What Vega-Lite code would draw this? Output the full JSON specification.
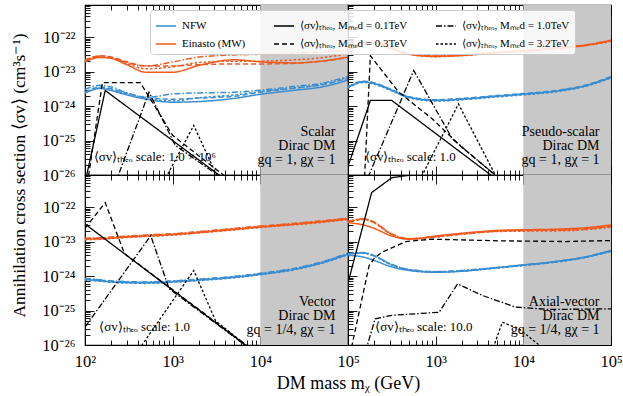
{
"$schema":"https://vega.github.io/schema/vega-lite/v6.json",
"padding":{"left":9,"top":3,"right":5,"bottom":5},
"config":{"font":"Liberation Serif","view":{"stroke":"black","strokeWidth":1.2},
"axis":{"domain":false,"grid":false,"tickColor":"black","tickWidth":0.9,"labelColor":"black","titleColor":"black","labelFontSize":15,"titleFontSize":16,"titleFontWeight":"normal","labelPadding":2,"labelOverlap":false,"labelFlush":false,"labelBound":false},
"legend":{"labelFont":"Liberation Serif"}},
"datasets":{
"band":[{"x0":10000,"x1":100000}],
"lines":[
{"p":"TL","s":"NFW","m":"0.1","x":100,"y":2.40e-24},{"p":"TL","s":"NFW","m":"0.1","x":150,"y":3.24e-24},{"p":"TL","s":"NFW","m":"0.1","x":200,"y":2.82e-24},{"p":"TL","s":"NFW","m":"0.1","x":300,"y":2.09e-24},{"p":"TL","s":"NFW","m":"0.1","x":500,"y":1.58e-24},{"p":"TL","s":"NFW","m":"0.1","x":1000,"y":1.29e-24},{"p":"TL","s":"NFW","m":"0.1","x":2000,"y":1.35e-24},{"p":"TL","s":"NFW","m":"0.1","x":5000,"y":1.66e-24},{"p":"TL","s":"NFW","m":"0.1","x":10000,"y":2.19e-24},{"p":"TL","s":"NFW","m":"0.1","x":25000,"y":2.88e-24},{"p":"TL","s":"NFW","m":"0.1","x":50000,"y":3.55e-24},{"p":"TL","s":"NFW","m":"0.1","x":100000,"y":5.62e-24},
{"p":"TL","s":"NFW","m":"0.3","x":100,"y":2.51e-24},{"p":"TL","s":"NFW","m":"0.3","x":150,"y":3.55e-24},{"p":"TL","s":"NFW","m":"0.3","x":200,"y":3.16e-24},{"p":"TL","s":"NFW","m":"0.3","x":300,"y":2.34e-24},{"p":"TL","s":"NFW","m":"0.3","x":500,"y":1.78e-24},{"p":"TL","s":"NFW","m":"0.3","x":1000,"y":1.58e-24},{"p":"TL","s":"NFW","m":"0.3","x":2000,"y":1.70e-24},{"p":"TL","s":"NFW","m":"0.3","x":5000,"y":1.91e-24},{"p":"TL","s":"NFW","m":"0.3","x":10000,"y":2.51e-24},{"p":"TL","s":"NFW","m":"0.3","x":25000,"y":3.31e-24},{"p":"TL","s":"NFW","m":"0.3","x":50000,"y":4.07e-24},{"p":"TL","s":"NFW","m":"0.3","x":100000,"y":6.31e-24},
{"p":"TL","s":"NFW","m":"1.0","x":100,"y":3.02e-24},{"p":"TL","s":"NFW","m":"1.0","x":150,"y":3.98e-24},{"p":"TL","s":"NFW","m":"1.0","x":200,"y":3.55e-24},{"p":"TL","s":"NFW","m":"1.0","x":300,"y":2.40e-24},{"p":"TL","s":"NFW","m":"1.0","x":500,"y":1.78e-24},{"p":"TL","s":"NFW","m":"1.0","x":1000,"y":2.24e-24},{"p":"TL","s":"NFW","m":"1.0","x":2000,"y":2.40e-24},{"p":"TL","s":"NFW","m":"1.0","x":5000,"y":2.51e-24},{"p":"TL","s":"NFW","m":"1.0","x":10000,"y":2.88e-24},{"p":"TL","s":"NFW","m":"1.0","x":25000,"y":3.72e-24},{"p":"TL","s":"NFW","m":"1.0","x":50000,"y":4.57e-24},{"p":"TL","s":"NFW","m":"1.0","x":100000,"y":7.24e-24},
{"p":"TL","s":"NFW","m":"3.2","x":100,"y":2.40e-24},{"p":"TL","s":"NFW","m":"3.2","x":150,"y":3.31e-24},{"p":"TL","s":"NFW","m":"3.2","x":200,"y":2.95e-24},{"p":"TL","s":"NFW","m":"3.2","x":300,"y":2.19e-24},{"p":"TL","s":"NFW","m":"3.2","x":500,"y":1.66e-24},{"p":"TL","s":"NFW","m":"3.2","x":1000,"y":1.41e-24},{"p":"TL","s":"NFW","m":"3.2","x":2000,"y":1.74e-24},{"p":"TL","s":"NFW","m":"3.2","x":5000,"y":2.09e-24},{"p":"TL","s":"NFW","m":"3.2","x":10000,"y":2.63e-24},{"p":"TL","s":"NFW","m":"3.2","x":25000,"y":3.39e-24},{"p":"TL","s":"NFW","m":"3.2","x":50000,"y":4.27e-24},{"p":"TL","s":"NFW","m":"3.2","x":100000,"y":6.76e-24},
{"p":"TL","s":"Ein","m":"0.1","x":100,"y":1.95e-23},{"p":"TL","s":"Ein","m":"0.1","x":150,"y":2.57e-23},{"p":"TL","s":"Ein","m":"0.1","x":200,"y":2.40e-23},{"p":"TL","s":"Ein","m":"0.1","x":300,"y":1.58e-23},{"p":"TL","s":"Ein","m":"0.1","x":500,"y":9.55e-24},{"p":"TL","s":"Ein","m":"0.1","x":1000,"y":9.55e-24},{"p":"TL","s":"Ein","m":"0.1","x":2000,"y":1.51e-23},{"p":"TL","s":"Ein","m":"0.1","x":5000,"y":2.19e-23},{"p":"TL","s":"Ein","m":"0.1","x":10000,"y":1.91e-23},{"p":"TL","s":"Ein","m":"0.1","x":25000,"y":1.78e-23},{"p":"TL","s":"Ein","m":"0.1","x":50000,"y":2.00e-23},{"p":"TL","s":"Ein","m":"0.1","x":100000,"y":2.63e-23},
{"p":"TL","s":"Ein","m":"0.3","x":100,"y":2.19e-23},{"p":"TL","s":"Ein","m":"0.3","x":150,"y":2.88e-23},{"p":"TL","s":"Ein","m":"0.3","x":200,"y":2.63e-23},{"p":"TL","s":"Ein","m":"0.3","x":300,"y":1.91e-23},{"p":"TL","s":"Ein","m":"0.3","x":500,"y":1.45e-23},{"p":"TL","s":"Ein","m":"0.3","x":1000,"y":1.45e-23},{"p":"TL","s":"Ein","m":"0.3","x":2000,"y":1.58e-23},{"p":"TL","s":"Ein","m":"0.3","x":5000,"y":1.66e-23},{"p":"TL","s":"Ein","m":"0.3","x":10000,"y":1.66e-23},{"p":"TL","s":"Ein","m":"0.3","x":25000,"y":1.74e-23},{"p":"TL","s":"Ein","m":"0.3","x":50000,"y":2.00e-23},{"p":"TL","s":"Ein","m":"0.3","x":100000,"y":2.51e-23},
{"p":"TL","s":"Ein","m":"1.0","x":100,"y":2.09e-23},{"p":"TL","s":"Ein","m":"1.0","x":150,"y":2.82e-23},{"p":"TL","s":"Ein","m":"1.0","x":200,"y":2.51e-23},{"p":"TL","s":"Ein","m":"1.0","x":300,"y":1.82e-23},{"p":"TL","s":"Ein","m":"1.0","x":500,"y":1.45e-23},{"p":"TL","s":"Ein","m":"1.0","x":1000,"y":1.91e-23},{"p":"TL","s":"Ein","m":"1.0","x":2000,"y":2.63e-23},{"p":"TL","s":"Ein","m":"1.0","x":5000,"y":3.02e-23},{"p":"TL","s":"Ein","m":"1.0","x":10000,"y":3.16e-23},{"p":"TL","s":"Ein","m":"1.0","x":25000,"y":3.39e-23},{"p":"TL","s":"Ein","m":"1.0","x":50000,"y":3.63e-23},{"p":"TL","s":"Ein","m":"1.0","x":100000,"y":4.17e-23},
{"p":"TL","s":"Ein","m":"3.2","x":100,"y":1.95e-23},{"p":"TL","s":"Ein","m":"3.2","x":150,"y":2.63e-23},{"p":"TL","s":"Ein","m":"3.2","x":200,"y":2.45e-23},{"p":"TL","s":"Ein","m":"3.2","x":300,"y":1.70e-23},{"p":"TL","s":"Ein","m":"3.2","x":500,"y":1.20e-23},{"p":"TL","s":"Ein","m":"3.2","x":1000,"y":1.38e-23},{"p":"TL","s":"Ein","m":"3.2","x":2000,"y":1.82e-23},{"p":"TL","s":"Ein","m":"3.2","x":5000,"y":2.00e-23},{"p":"TL","s":"Ein","m":"3.2","x":10000,"y":2.00e-23},{"p":"TL","s":"Ein","m":"3.2","x":25000,"y":2.19e-23},{"p":"TL","s":"Ein","m":"3.2","x":50000,"y":2.51e-23},{"p":"TL","s":"Ein","m":"3.2","x":100000,"y":3.31e-23},
{"p":"TR","s":"NFW","m":"0.1","x":100,"y":3.47e-24},{"p":"TR","s":"NFW","m":"0.1","x":150,"y":5.01e-24},{"p":"TR","s":"NFW","m":"0.1","x":200,"y":4.47e-24},{"p":"TR","s":"NFW","m":"0.1","x":300,"y":3.02e-24},{"p":"TR","s":"NFW","m":"0.1","x":500,"y":1.78e-24},{"p":"TR","s":"NFW","m":"0.1","x":1000,"y":1.45e-24},{"p":"TR","s":"NFW","m":"0.1","x":2000,"y":1.58e-24},{"p":"TR","s":"NFW","m":"0.1","x":5000,"y":1.91e-24},{"p":"TR","s":"NFW","m":"0.1","x":10000,"y":2.19e-24},{"p":"TR","s":"NFW","m":"0.1","x":25000,"y":2.75e-24},{"p":"TR","s":"NFW","m":"0.1","x":50000,"y":3.80e-24},{"p":"TR","s":"NFW","m":"0.1","x":100000,"y":6.76e-24},
{"p":"TR","s":"NFW","m":"0.3","x":100,"y":3.64e-24},{"p":"TR","s":"NFW","m":"0.3","x":150,"y":5.26e-24},{"p":"TR","s":"NFW","m":"0.3","x":200,"y":4.69e-24},{"p":"TR","s":"NFW","m":"0.3","x":300,"y":3.17e-24},{"p":"TR","s":"NFW","m":"0.3","x":500,"y":1.87e-24},{"p":"TR","s":"NFW","m":"0.3","x":1000,"y":1.52e-24},{"p":"TR","s":"NFW","m":"0.3","x":2000,"y":1.66e-24},{"p":"TR","s":"NFW","m":"0.3","x":5000,"y":2.01e-24},{"p":"TR","s":"NFW","m":"0.3","x":10000,"y":2.30e-24},{"p":"TR","s":"NFW","m":"0.3","x":25000,"y":2.89e-24},{"p":"TR","s":"NFW","m":"0.3","x":50000,"y":3.99e-24},{"p":"TR","s":"NFW","m":"0.3","x":100000,"y":7.10e-24},
{"p":"TR","s":"NFW","m":"1.0","x":100,"y":3.54e-24},{"p":"TR","s":"NFW","m":"1.0","x":150,"y":5.11e-24},{"p":"TR","s":"NFW","m":"1.0","x":200,"y":4.56e-24},{"p":"TR","s":"NFW","m":"1.0","x":300,"y":3.08e-24},{"p":"TR","s":"NFW","m":"1.0","x":500,"y":1.82e-24},{"p":"TR","s":"NFW","m":"1.0","x":1000,"y":1.48e-24},{"p":"TR","s":"NFW","m":"1.0","x":2000,"y":1.61e-24},{"p":"TR","s":"NFW","m":"1.0","x":5000,"y":1.95e-24},{"p":"TR","s":"NFW","m":"1.0","x":10000,"y":2.23e-24},{"p":"TR","s":"NFW","m":"1.0","x":25000,"y":2.81e-24},{"p":"TR","s":"NFW","m":"1.0","x":50000,"y":3.88e-24},{"p":"TR","s":"NFW","m":"1.0","x":100000,"y":6.90e-24},
{"p":"TR","s":"NFW","m":"3.2","x":100,"y":3.33e-24},{"p":"TR","s":"NFW","m":"3.2","x":150,"y":4.81e-24},{"p":"TR","s":"NFW","m":"3.2","x":200,"y":4.29e-24},{"p":"TR","s":"NFW","m":"3.2","x":300,"y":2.90e-24},{"p":"TR","s":"NFW","m":"3.2","x":500,"y":1.71e-24},{"p":"TR","s":"NFW","m":"3.2","x":1000,"y":1.39e-24},{"p":"TR","s":"NFW","m":"3.2","x":2000,"y":1.52e-24},{"p":"TR","s":"NFW","m":"3.2","x":5000,"y":1.83e-24},{"p":"TR","s":"NFW","m":"3.2","x":10000,"y":2.10e-24},{"p":"TR","s":"NFW","m":"3.2","x":25000,"y":2.64e-24},{"p":"TR","s":"NFW","m":"3.2","x":50000,"y":3.65e-24},{"p":"TR","s":"NFW","m":"3.2","x":100000,"y":6.49e-24},
{"p":"TR","s":"Ein","m":"0.1","x":100,"y":4.17e-23},{"p":"TR","s":"Ein","m":"0.1","x":150,"y":6.92e-23},{"p":"TR","s":"Ein","m":"0.1","x":200,"y":7.41e-23},{"p":"TR","s":"Ein","m":"0.1","x":300,"y":5.01e-23},{"p":"TR","s":"Ein","m":"0.1","x":500,"y":3.16e-23},{"p":"TR","s":"Ein","m":"0.1","x":1000,"y":2.75e-23},{"p":"TR","s":"Ein","m":"0.1","x":2000,"y":2.95e-23},{"p":"TR","s":"Ein","m":"0.1","x":5000,"y":3.55e-23},{"p":"TR","s":"Ein","m":"0.1","x":10000,"y":3.98e-23},{"p":"TR","s":"Ein","m":"0.1","x":25000,"y":4.79e-23},{"p":"TR","s":"Ein","m":"0.1","x":50000,"y":5.75e-23},{"p":"TR","s":"Ein","m":"0.1","x":100000,"y":7.94e-23},
{"p":"TR","s":"Ein","m":"0.3","x":100,"y":3.98e-23},{"p":"TR","s":"Ein","m":"0.3","x":150,"y":6.03e-23},{"p":"TR","s":"Ein","m":"0.3","x":200,"y":6.61e-23},{"p":"TR","s":"Ein","m":"0.3","x":300,"y":4.68e-23},{"p":"TR","s":"Ein","m":"0.3","x":500,"y":3.24e-23},{"p":"TR","s":"Ein","m":"0.3","x":1000,"y":2.82e-23},{"p":"TR","s":"Ein","m":"0.3","x":2000,"y":3.02e-23},{"p":"TR","s":"Ein","m":"0.3","x":5000,"y":3.55e-23},{"p":"TR","s":"Ein","m":"0.3","x":10000,"y":3.89e-23},{"p":"TR","s":"Ein","m":"0.3","x":25000,"y":4.68e-23},{"p":"TR","s":"Ein","m":"0.3","x":50000,"y":5.62e-23},{"p":"TR","s":"Ein","m":"0.3","x":100000,"y":7.76e-23},
{"p":"TR","s":"Ein","m":"1.0","x":100,"y":4.37e-23},{"p":"TR","s":"Ein","m":"1.0","x":150,"y":7.24e-23},{"p":"TR","s":"Ein","m":"1.0","x":200,"y":7.59e-23},{"p":"TR","s":"Ein","m":"1.0","x":300,"y":5.13e-23},{"p":"TR","s":"Ein","m":"1.0","x":500,"y":3.31e-23},{"p":"TR","s":"Ein","m":"1.0","x":1000,"y":2.82e-23},{"p":"TR","s":"Ein","m":"1.0","x":2000,"y":3.02e-23},{"p":"TR","s":"Ein","m":"1.0","x":5000,"y":3.63e-23},{"p":"TR","s":"Ein","m":"1.0","x":10000,"y":4.07e-23},{"p":"TR","s":"Ein","m":"1.0","x":25000,"y":4.90e-23},{"p":"TR","s":"Ein","m":"1.0","x":50000,"y":5.89e-23},{"p":"TR","s":"Ein","m":"1.0","x":100000,"y":8.13e-23},
{"p":"TR","s":"Ein","m":"3.2","x":100,"y":3.98e-23},{"p":"TR","s":"Ein","m":"3.2","x":150,"y":6.31e-23},{"p":"TR","s":"Ein","m":"3.2","x":200,"y":6.92e-23},{"p":"TR","s":"Ein","m":"3.2","x":300,"y":4.90e-23},{"p":"TR","s":"Ein","m":"3.2","x":500,"y":3.16e-23},{"p":"TR","s":"Ein","m":"3.2","x":1000,"y":2.69e-23},{"p":"TR","s":"Ein","m":"3.2","x":2000,"y":2.88e-23},{"p":"TR","s":"Ein","m":"3.2","x":5000,"y":3.47e-23},{"p":"TR","s":"Ein","m":"3.2","x":10000,"y":3.89e-23},{"p":"TR","s":"Ein","m":"3.2","x":25000,"y":4.68e-23},{"p":"TR","s":"Ein","m":"3.2","x":50000,"y":5.62e-23},{"p":"TR","s":"Ein","m":"3.2","x":100000,"y":7.59e-23},
{"p":"BL","s":"NFW","m":"0.1","x":100,"y":7.94e-25},{"p":"BL","s":"NFW","m":"0.1","x":150,"y":7.24e-25},{"p":"BL","s":"NFW","m":"0.1","x":200,"y":6.76e-25},{"p":"BL","s":"NFW","m":"0.1","x":300,"y":6.46e-25},{"p":"BL","s":"NFW","m":"0.1","x":500,"y":6.31e-25},{"p":"BL","s":"NFW","m":"0.1","x":1000,"y":6.76e-25},{"p":"BL","s":"NFW","m":"0.1","x":2000,"y":7.59e-25},{"p":"BL","s":"NFW","m":"0.1","x":5000,"y":9.12e-25},{"p":"BL","s":"NFW","m":"0.1","x":10000,"y":1.12e-24},{"p":"BL","s":"NFW","m":"0.1","x":25000,"y":1.58e-24},{"p":"BL","s":"NFW","m":"0.1","x":50000,"y":2.40e-24},{"p":"BL","s":"NFW","m":"0.1","x":100000,"y":4.27e-24},
{"p":"BL","s":"NFW","m":"0.3","x":100,"y":8.26e-25},{"p":"BL","s":"NFW","m":"0.3","x":150,"y":7.53e-25},{"p":"BL","s":"NFW","m":"0.3","x":200,"y":7.03e-25},{"p":"BL","s":"NFW","m":"0.3","x":300,"y":6.72e-25},{"p":"BL","s":"NFW","m":"0.3","x":500,"y":6.56e-25},{"p":"BL","s":"NFW","m":"0.3","x":1000,"y":7.03e-25},{"p":"BL","s":"NFW","m":"0.3","x":2000,"y":7.89e-25},{"p":"BL","s":"NFW","m":"0.3","x":5000,"y":9.48e-25},{"p":"BL","s":"NFW","m":"0.3","x":10000,"y":1.16e-24},{"p":"BL","s":"NFW","m":"0.3","x":25000,"y":1.64e-24},{"p":"BL","s":"NFW","m":"0.3","x":50000,"y":2.50e-24},{"p":"BL","s":"NFW","m":"0.3","x":100000,"y":4.44e-24},
{"p":"BL","s":"NFW","m":"1.0","x":100,"y":8.50e-25},{"p":"BL","s":"NFW","m":"1.0","x":150,"y":7.75e-25},{"p":"BL","s":"NFW","m":"1.0","x":200,"y":7.23e-25},{"p":"BL","s":"NFW","m":"1.0","x":300,"y":6.91e-25},{"p":"BL","s":"NFW","m":"1.0","x":500,"y":6.75e-25},{"p":"BL","s":"NFW","m":"1.0","x":1000,"y":7.23e-25},{"p":"BL","s":"NFW","m":"1.0","x":2000,"y":8.12e-25},{"p":"BL","s":"NFW","m":"1.0","x":5000,"y":9.76e-25},{"p":"BL","s":"NFW","m":"1.0","x":10000,"y":1.20e-24},{"p":"BL","s":"NFW","m":"1.0","x":25000,"y":1.69e-24},{"p":"BL","s":"NFW","m":"1.0","x":50000,"y":2.57e-24},{"p":"BL","s":"NFW","m":"1.0","x":100000,"y":4.57e-24},
{"p":"BL","s":"NFW","m":"3.2","x":100,"y":7.70e-25},{"p":"BL","s":"NFW","m":"3.2","x":150,"y":7.02e-25},{"p":"BL","s":"NFW","m":"3.2","x":200,"y":6.56e-25},{"p":"BL","s":"NFW","m":"3.2","x":300,"y":6.27e-25},{"p":"BL","s":"NFW","m":"3.2","x":500,"y":6.12e-25},{"p":"BL","s":"NFW","m":"3.2","x":1000,"y":6.56e-25},{"p":"BL","s":"NFW","m":"3.2","x":2000,"y":7.36e-25},{"p":"BL","s":"NFW","m":"3.2","x":5000,"y":8.85e-25},{"p":"BL","s":"NFW","m":"3.2","x":10000,"y":1.09e-24},{"p":"BL","s":"NFW","m":"3.2","x":25000,"y":1.53e-24},{"p":"BL","s":"NFW","m":"3.2","x":50000,"y":2.33e-24},{"p":"BL","s":"NFW","m":"3.2","x":100000,"y":4.14e-24},
{"p":"BL","s":"Ein","m":"0.1","x":100,"y":1.17e-23},{"p":"BL","s":"Ein","m":"0.1","x":150,"y":1.20e-23},{"p":"BL","s":"Ein","m":"0.1","x":200,"y":1.26e-23},{"p":"BL","s":"Ein","m":"0.1","x":300,"y":1.35e-23},{"p":"BL","s":"Ein","m":"0.1","x":500,"y":1.45e-23},{"p":"BL","s":"Ein","m":"0.1","x":1000,"y":1.58e-23},{"p":"BL","s":"Ein","m":"0.1","x":2000,"y":1.82e-23},{"p":"BL","s":"Ein","m":"0.1","x":5000,"y":2.24e-23},{"p":"BL","s":"Ein","m":"0.1","x":10000,"y":2.63e-23},{"p":"BL","s":"Ein","m":"0.1","x":25000,"y":3.16e-23},{"p":"BL","s":"Ein","m":"0.1","x":50000,"y":3.72e-23},{"p":"BL","s":"Ein","m":"0.1","x":100000,"y":4.47e-23},
{"p":"BL","s":"Ein","m":"0.3","x":100,"y":1.22e-23},{"p":"BL","s":"Ein","m":"0.3","x":150,"y":1.25e-23},{"p":"BL","s":"Ein","m":"0.3","x":200,"y":1.31e-23},{"p":"BL","s":"Ein","m":"0.3","x":300,"y":1.40e-23},{"p":"BL","s":"Ein","m":"0.3","x":500,"y":1.51e-23},{"p":"BL","s":"Ein","m":"0.3","x":1000,"y":1.64e-23},{"p":"BL","s":"Ein","m":"0.3","x":2000,"y":1.89e-23},{"p":"BL","s":"Ein","m":"0.3","x":5000,"y":2.33e-23},{"p":"BL","s":"Ein","m":"0.3","x":10000,"y":2.74e-23},{"p":"BL","s":"Ein","m":"0.3","x":25000,"y":3.29e-23},{"p":"BL","s":"Ein","m":"0.3","x":50000,"y":3.87e-23},{"p":"BL","s":"Ein","m":"0.3","x":100000,"y":4.65e-23},
{"p":"BL","s":"Ein","m":"1.0","x":100,"y":1.25e-23},{"p":"BL","s":"Ein","m":"1.0","x":150,"y":1.28e-23},{"p":"BL","s":"Ein","m":"1.0","x":200,"y":1.35e-23},{"p":"BL","s":"Ein","m":"1.0","x":300,"y":1.44e-23},{"p":"BL","s":"Ein","m":"1.0","x":500,"y":1.55e-23},{"p":"BL","s":"Ein","m":"1.0","x":1000,"y":1.69e-23},{"p":"BL","s":"Ein","m":"1.0","x":2000,"y":1.95e-23},{"p":"BL","s":"Ein","m":"1.0","x":5000,"y":2.40e-23},{"p":"BL","s":"Ein","m":"1.0","x":10000,"y":2.81e-23},{"p":"BL","s":"Ein","m":"1.0","x":25000,"y":3.38e-23},{"p":"BL","s":"Ein","m":"1.0","x":50000,"y":3.98e-23},{"p":"BL","s":"Ein","m":"1.0","x":100000,"y":4.78e-23},
{"p":"BL","s":"Ein","m":"3.2","x":100,"y":1.13e-23},{"p":"BL","s":"Ein","m":"3.2","x":150,"y":1.16e-23},{"p":"BL","s":"Ein","m":"3.2","x":200,"y":1.22e-23},{"p":"BL","s":"Ein","m":"3.2","x":300,"y":1.31e-23},{"p":"BL","s":"Ein","m":"3.2","x":500,"y":1.41e-23},{"p":"BL","s":"Ein","m":"3.2","x":1000,"y":1.53e-23},{"p":"BL","s":"Ein","m":"3.2","x":2000,"y":1.77e-23},{"p":"BL","s":"Ein","m":"3.2","x":5000,"y":2.17e-23},{"p":"BL","s":"Ein","m":"3.2","x":10000,"y":2.55e-23},{"p":"BL","s":"Ein","m":"3.2","x":25000,"y":3.07e-23},{"p":"BL","s":"Ein","m":"3.2","x":50000,"y":3.61e-23},{"p":"BL","s":"Ein","m":"3.2","x":100000,"y":4.34e-23},
{"p":"BR","s":"NFW","m":"0.1","x":100,"y":3.98e-24},{"p":"BR","s":"NFW","m":"0.1","x":150,"y":3.55e-24},{"p":"BR","s":"NFW","m":"0.1","x":200,"y":2.82e-24},{"p":"BR","s":"NFW","m":"0.1","x":300,"y":1.91e-24},{"p":"BR","s":"NFW","m":"0.1","x":500,"y":1.45e-24},{"p":"BR","s":"NFW","m":"0.1","x":1000,"y":1.29e-24},{"p":"BR","s":"NFW","m":"0.1","x":2000,"y":1.38e-24},{"p":"BR","s":"NFW","m":"0.1","x":5000,"y":1.74e-24},{"p":"BR","s":"NFW","m":"0.1","x":10000,"y":2.09e-24},{"p":"BR","s":"NFW","m":"0.1","x":25000,"y":2.69e-24},{"p":"BR","s":"NFW","m":"0.1","x":50000,"y":3.55e-24},{"p":"BR","s":"NFW","m":"0.1","x":100000,"y":5.50e-24},
{"p":"BR","s":"NFW","m":"0.3","x":100,"y":4.37e-24},{"p":"BR","s":"NFW","m":"0.3","x":150,"y":4.68e-24},{"p":"BR","s":"NFW","m":"0.3","x":200,"y":3.80e-24},{"p":"BR","s":"NFW","m":"0.3","x":300,"y":2.24e-24},{"p":"BR","s":"NFW","m":"0.3","x":500,"y":1.51e-24},{"p":"BR","s":"NFW","m":"0.3","x":1000,"y":1.32e-24},{"p":"BR","s":"NFW","m":"0.3","x":2000,"y":1.41e-24},{"p":"BR","s":"NFW","m":"0.3","x":5000,"y":1.74e-24},{"p":"BR","s":"NFW","m":"0.3","x":10000,"y":2.04e-24},{"p":"BR","s":"NFW","m":"0.3","x":25000,"y":2.63e-24},{"p":"BR","s":"NFW","m":"0.3","x":50000,"y":3.47e-24},{"p":"BR","s":"NFW","m":"0.3","x":100000,"y":5.25e-24},
{"p":"BR","s":"NFW","m":"1.0","x":100,"y":4.47e-24},{"p":"BR","s":"NFW","m":"1.0","x":150,"y":4.79e-24},{"p":"BR","s":"NFW","m":"1.0","x":200,"y":3.89e-24},{"p":"BR","s":"NFW","m":"1.0","x":300,"y":2.29e-24},{"p":"BR","s":"NFW","m":"1.0","x":500,"y":1.55e-24},{"p":"BR","s":"NFW","m":"1.0","x":1000,"y":1.35e-24},{"p":"BR","s":"NFW","m":"1.0","x":2000,"y":1.45e-24},{"p":"BR","s":"NFW","m":"1.0","x":5000,"y":1.78e-24},{"p":"BR","s":"NFW","m":"1.0","x":10000,"y":2.09e-24},{"p":"BR","s":"NFW","m":"1.0","x":25000,"y":2.69e-24},{"p":"BR","s":"NFW","m":"1.0","x":50000,"y":3.55e-24},{"p":"BR","s":"NFW","m":"1.0","x":100000,"y":5.37e-24},
{"p":"BR","s":"NFW","m":"3.2","x":100,"y":4.27e-24},{"p":"BR","s":"NFW","m":"3.2","x":150,"y":4.57e-24},{"p":"BR","s":"NFW","m":"3.2","x":200,"y":3.72e-24},{"p":"BR","s":"NFW","m":"3.2","x":300,"y":2.19e-24},{"p":"BR","s":"NFW","m":"3.2","x":500,"y":1.48e-24},{"p":"BR","s":"NFW","m":"3.2","x":1000,"y":1.29e-24},{"p":"BR","s":"NFW","m":"3.2","x":2000,"y":1.38e-24},{"p":"BR","s":"NFW","m":"3.2","x":5000,"y":1.70e-24},{"p":"BR","s":"NFW","m":"3.2","x":10000,"y":2.00e-24},{"p":"BR","s":"NFW","m":"3.2","x":25000,"y":2.57e-24},{"p":"BR","s":"NFW","m":"3.2","x":50000,"y":3.39e-24},{"p":"BR","s":"NFW","m":"3.2","x":100000,"y":5.13e-24},
{"p":"BR","s":"Ein","m":"0.1","x":100,"y":3.55e-23},{"p":"BR","s":"Ein","m":"0.1","x":150,"y":3.02e-23},{"p":"BR","s":"Ein","m":"0.1","x":200,"y":2.40e-23},{"p":"BR","s":"Ein","m":"0.1","x":300,"y":1.51e-23},{"p":"BR","s":"Ein","m":"0.1","x":500,"y":1.17e-23},{"p":"BR","s":"Ein","m":"0.1","x":1000,"y":1.45e-23},{"p":"BR","s":"Ein","m":"0.1","x":2000,"y":1.74e-23},{"p":"BR","s":"Ein","m":"0.1","x":5000,"y":2.09e-23},{"p":"BR","s":"Ein","m":"0.1","x":10000,"y":2.19e-23},{"p":"BR","s":"Ein","m":"0.1","x":25000,"y":2.29e-23},{"p":"BR","s":"Ein","m":"0.1","x":50000,"y":2.51e-23},{"p":"BR","s":"Ein","m":"0.1","x":100000,"y":3.02e-23},
{"p":"BR","s":"Ein","m":"0.3","x":100,"y":3.80e-23},{"p":"BR","s":"Ein","m":"0.3","x":150,"y":4.47e-23},{"p":"BR","s":"Ein","m":"0.3","x":200,"y":3.55e-23},{"p":"BR","s":"Ein","m":"0.3","x":300,"y":1.74e-23},{"p":"BR","s":"Ein","m":"0.3","x":500,"y":1.20e-23},{"p":"BR","s":"Ein","m":"0.3","x":1000,"y":1.38e-23},{"p":"BR","s":"Ein","m":"0.3","x":2000,"y":1.66e-23},{"p":"BR","s":"Ein","m":"0.3","x":5000,"y":2.00e-23},{"p":"BR","s":"Ein","m":"0.3","x":10000,"y":2.09e-23},{"p":"BR","s":"Ein","m":"0.3","x":25000,"y":2.14e-23},{"p":"BR","s":"Ein","m":"0.3","x":50000,"y":2.29e-23},{"p":"BR","s":"Ein","m":"0.3","x":100000,"y":2.75e-23},
{"p":"BR","s":"Ein","m":"1.0","x":100,"y":3.89e-23},{"p":"BR","s":"Ein","m":"1.0","x":150,"y":4.57e-23},{"p":"BR","s":"Ein","m":"1.0","x":200,"y":3.63e-23},{"p":"BR","s":"Ein","m":"1.0","x":300,"y":1.78e-23},{"p":"BR","s":"Ein","m":"1.0","x":500,"y":1.22e-23},{"p":"BR","s":"Ein","m":"1.0","x":1000,"y":1.41e-23},{"p":"BR","s":"Ein","m":"1.0","x":2000,"y":1.70e-23},{"p":"BR","s":"Ein","m":"1.0","x":5000,"y":2.04e-23},{"p":"BR","s":"Ein","m":"1.0","x":10000,"y":2.14e-23},{"p":"BR","s":"Ein","m":"1.0","x":25000,"y":2.19e-23},{"p":"BR","s":"Ein","m":"1.0","x":50000,"y":2.34e-23},{"p":"BR","s":"Ein","m":"1.0","x":100000,"y":2.82e-23},
{"p":"BR","s":"Ein","m":"3.2","x":100,"y":3.72e-23},{"p":"BR","s":"Ein","m":"3.2","x":150,"y":4.37e-23},{"p":"BR","s":"Ein","m":"3.2","x":200,"y":3.47e-23},{"p":"BR","s":"Ein","m":"3.2","x":300,"y":1.70e-23},{"p":"BR","s":"Ein","m":"3.2","x":500,"y":1.17e-23},{"p":"BR","s":"Ein","m":"3.2","x":1000,"y":1.35e-23},{"p":"BR","s":"Ein","m":"3.2","x":2000,"y":1.62e-23},{"p":"BR","s":"Ein","m":"3.2","x":5000,"y":1.95e-23},{"p":"BR","s":"Ein","m":"3.2","x":10000,"y":2.00e-23},{"p":"BR","s":"Ein","m":"3.2","x":25000,"y":2.04e-23},{"p":"BR","s":"Ein","m":"3.2","x":50000,"y":2.19e-23},{"p":"BR","s":"Ein","m":"3.2","x":100000,"y":2.63e-23}
],
"black":[
{"p":"TL","m":"0.1","x":100,"y":5.9e-27},{"p":"TL","m":"0.1","x":170,"y":2.82e-24},{"p":"TL","m":"0.1","x":10000,"y":1.29e-27},
{"p":"TL","m":"0.3","x":100,"y":1.9e-27},{"p":"TL","m":"0.3","x":158,"y":4.79e-24},{"p":"TL","m":"0.3","x":427,"y":4.79e-24},{"p":"TL","m":"0.3","x":1000,"y":1.41e-25},{"p":"TL","m":"0.3","x":10000,"y":1.45e-27},
{"p":"TL","m":"1.0","x":200,"y":2.8e-27},{"p":"TL","m":"1.0","x":537,"y":2.51e-24},{"p":"TL","m":"1.0","x":1072,"y":7.24e-26},{"p":"TL","m":"1.0","x":10000,"y":1.35e-27},
{"p":"TL","m":"3.2","x":708,"y":3.7e-27},{"p":"TL","m":"3.2","x":1738,"y":2.75e-25},{"p":"TL","m":"3.2","x":3981,"y":2.8e-27},
{"p":"TR","m":"0.1","x":100,"y":1.78e-26},{"p":"TR","m":"0.1","x":180,"y":1.45e-24},{"p":"TR","m":"0.1","x":316,"y":1.45e-24},{"p":"TR","m":"0.1","x":10000,"y":1.95e-27},
{"p":"TR","m":"0.3","x":150,"y":1.8e-27},{"p":"TR","m":"0.3","x":180,"y":2.88e-23},{"p":"TR","m":"0.3","x":380,"y":2.51e-24},{"p":"TR","m":"0.3","x":912,"y":4.27e-25},{"p":"TR","m":"0.3","x":2000,"y":6.3e-26},{"p":"TR","m":"0.3","x":10000,"y":2.1e-27},
{"p":"TR","m":"1.0","x":150,"y":4.2e-27},{"p":"TR","m":"1.0","x":562,"y":1.07e-23},{"p":"TR","m":"1.0","x":1549,"y":1.12e-25},{"p":"TR","m":"1.0","x":10000,"y":2.0e-27},
{"p":"TR","m":"3.2","x":500,"y":1.8e-27},{"p":"TR","m":"3.2","x":1820,"y":1.15e-24},{"p":"TR","m":"3.2","x":6310,"y":2.6e-27},
{"p":"BL","m":"0.1","x":100,"y":3.24e-23},{"p":"BL","m":"0.1","x":10000,"y":4.68e-27},
{"p":"BL","m":"0.3","x":100,"y":2.40e-23},{"p":"BL","m":"0.3","x":170,"y":1.35e-22},{"p":"BL","m":"0.3","x":282,"y":4.47e-24},{"p":"BL","m":"0.3","x":10000,"y":4.9e-27},
{"p":"BL","m":"1.0","x":100,"y":3.31e-26},{"p":"BL","m":"1.0","x":562,"y":1.48e-23},{"p":"BL","m":"1.0","x":912,"y":4.27e-25},{"p":"BL","m":"1.0","x":10000,"y":4.68e-27},
{"p":"BL","m":"3.2","x":316,"y":2.8e-27},{"p":"BL","m":"3.2","x":1738,"y":1.45e-24},{"p":"BL","m":"3.2","x":3090,"y":5.0e-26},{"p":"BL","m":"3.2","x":10000,"y":4.7e-27},
{"p":"BR","m":"0.1","x":100,"y":6.3e-25},{"p":"BR","m":"0.1","x":186,"y":2.63e-22},{"p":"BR","m":"0.1","x":316,"y":7.08e-22},{"p":"BR","m":"0.1","x":589,"y":8.9e-22},{"p":"BR","m":"0.1","x":100000,"y":1.5e-21},
{"p":"BR","m":"0.3","x":105,"y":5.0e-27},{"p":"BR","m":"0.3","x":174,"y":2.0e-24},{"p":"BR","m":"0.3","x":200,"y":3.3e-24},{"p":"BR","m":"0.3","x":245,"y":4.9e-24},{"p":"BR","m":"0.3","x":457,"y":1.0e-23},{"p":"BR","m":"0.3","x":912,"y":1.17e-23},{"p":"BR","m":"0.3","x":5248,"y":1.05e-23},{"p":"BR","m":"0.3","x":30200,"y":1.0e-23},{"p":"BR","m":"0.3","x":100000,"y":1.07e-23},
{"p":"BR","m":"1.0","x":158,"y":6.3e-27},{"p":"BR","m":"1.0","x":204,"y":5.75e-26},{"p":"BR","m":"1.0","x":316,"y":7.24e-26},{"p":"BR","m":"1.0","x":1096,"y":8.91e-26},{"p":"BR","m":"1.0","x":1778,"y":5.89e-25},{"p":"BR","m":"1.0","x":3388,"y":2.75e-25},{"p":"BR","m":"1.0","x":8128,"y":1.26e-25},{"p":"BR","m":"1.0","x":19500,"y":1.07e-25},{"p":"BR","m":"1.0","x":100000,"y":1.12e-25},
{"p":"BR","m":"3.2","x":4365,"y":6.3e-27},{"p":"BR","m":"3.2","x":5754,"y":4.57e-26},{"p":"BR","m":"3.2","x":8913,"y":2.95e-26},{"p":"BR","m":"3.2","x":15136,"y":1e-26},{"p":"BR","m":"3.2","x":17783,"y":6.3e-27}
]
},
"bounds":"flush",
"spacing":0,
"columns":2,
"concat":[
{"width":263,"height":170,"resolve":{"axis":{"x":"independent","y":"independent"}},"layer":[
{"data":{"name":"band"},"mark":{"type":"rect","color":"#c8c8c8"},"encoding":{"x":{"field":"x0","type":"quantitative","scale":{"type":"log","domain":[100,100000],"nice":false},"axis":{"orient":"bottom","values":[100,200,300,400,500,600,700,800,900,1000,2000,3000,4000,5000,6000,7000,8000,9000,10000,20000,30000,40000,50000,60000,70000,80000,90000,100000],"labels":false,"title":null,"tickSize":{"condition":{"test":"abs(log(datum.value)/LN10 - round(log(datum.value)/LN10)) < 0.001","value":-9},"value":-5}}},"x2":{"field":"x1"}}},
{"data":{"name":"lines"},"transform":[{"filter":"datum.p == 'TL'"}],"mark":{"type":"line","interpolate":"monotone","clip":true,"strokeWidth":1.5},"encoding":{
"x":{"field":"x","type":"quantitative","scale":{"type":"log","domain":[100,100000],"nice":false},"axis":{"orient":"top","values":[100,200,300,400,500,600,700,800,900,1000,2000,3000,4000,5000,6000,7000,8000,9000,10000,20000,30000,40000,50000,60000,70000,80000,90000,100000],"labels":false,"title":null,"tickSize":{"condition":{"test":"abs(log(datum.value)/LN10 - round(log(datum.value)/LN10)) < 0.001","value":-9},"value":-5}}},
"y":{"field":"y","type":"quantitative","scale":{"type":"log","domain":[1e-26,8.5e-22],"nice":false},"axis":{"orient":"left","values":[1e-26,2e-26,3e-26,4e-26,5e-26,6e-26,7e-26,8e-26,9e-26,1e-25,2e-25,3e-25,4e-25,5e-25,6e-25,7e-25,8e-25,9e-25,1e-24,2e-24,3e-24,4e-24,5e-24,6e-24,7e-24,8e-24,9e-24,1e-23,2e-23,3e-23,4e-23,5e-23,6e-23,7e-23,8e-23,9e-23,1e-22,2e-22,3e-22,4e-22,5e-22,6e-22,7e-22,8e-22],"labelExpr":"datum.value == 1e-22 ? '10⁻²²' : datum.value == 1e-23 ? '10⁻²³' : datum.value == 1e-24 ? '10⁻²⁴' : datum.value == 1e-25 ? '10⁻²⁵' : datum.value == 1e-26 ? '10⁻²⁶' : ''","labelFontSize":{"condition":{"test":"abs(log(datum.value)/LN10 - round(log(datum.value)/LN10)) < 0.001","value":16.5},"value":0},"labelPadding":19,"tickSize":{"condition":{"test":"abs(log(datum.value)/LN10 - round(log(datum.value)/LN10)) < 0.001","value":-9},"value":-5},"title":"Annihilation cross section ⟨σv⟩ (cm³s⁻¹)","titleX":-57,"titleY":170,"titleAlign":"center","titleAngle":-90,"titleFontSize":17.5}},
"color":{"field":"s","type":"nominal","scale":{"domain":["NFW","Ein"],"range":["#3a8dd1","#ef5a1f"]},"legend":null},
"strokeDash":{"field":"m","type":"nominal","scale":{"domain":["NFW","Ein","0.1","0.3","1.0","3.2"],"range":[[1,0],[1,0],[1,0],[5,3],[6,2,1.5,2],[2.5,2]]},"legend":{"orient":"none","legendX":65,"legendY":5,"columns":3,"title":null,"labelExpr":"datum.value == 'NFW' ? 'NFW' : datum.value == 'Ein' ? 'Einasto (MW)' : '⟨σv⟩ₜₕₑₒ, Mₘₑd = ' + datum.value + 'TeV'","symbolType":"stroke","symbolSize":400,"symbolStrokeWidth":1.6,"labelFontSize":11,"labelOffset":5,"columnPadding":24,"rowPadding":2,"padding":5,"fillColor":"rgba(255,255,255,0.85)","strokeColor":"#cccccc","cornerRadius":3,"encode":{"symbols":{"update":{"stroke":{"signal":"datum.value == 'NFW' ? '#3a8dd1' : datum.value == 'Ein' ? '#ef5a1f' : 'black'"}}}}}}}},
{"data":{"name":"black"},"transform":[{"filter":"datum.p == 'TL'"}],"mark":{"type":"line","clip":true,"strokeWidth":1.3,"color":"black"},"encoding":{
"x":{"field":"x","type":"quantitative","scale":{"type":"log","domain":[100,100000],"nice":false},"axis":null},
"y":{"field":"y","type":"quantitative","scale":{"type":"log","domain":[1e-26,8.5e-22],"nice":false},"axis":{"orient":"right","values":[1e-26,2e-26,3e-26,4e-26,5e-26,6e-26,7e-26,8e-26,9e-26,1e-25,2e-25,3e-25,4e-25,5e-25,6e-25,7e-25,8e-25,9e-25,1e-24,2e-24,3e-24,4e-24,5e-24,6e-24,7e-24,8e-24,9e-24,1e-23,2e-23,3e-23,4e-23,5e-23,6e-23,7e-23,8e-23,9e-23,1e-22,2e-22,3e-22,4e-22,5e-22,6e-22,7e-22,8e-22],"labels":false,"title":null,"tickSize":{"condition":{"test":"abs(log(datum.value)/LN10 - round(log(datum.value)/LN10)) < 0.001","value":-9},"value":-5}}},
"strokeDash":{"field":"m","type":"nominal","scale":{"domain":["NFW","Ein","0.1","0.3","1.0","3.2"],"range":[[1,0],[1,0],[1,0],[5,3],[6,2,1.5,2],[2.5,2]]},"legend":{"orient":"none","legendX":65,"legendY":5,"columns":3,"title":null,"labelExpr":"datum.value == 'NFW' ? 'NFW' : datum.value == 'Ein' ? 'Einasto (MW)' : '⟨σv⟩ₜₕₑₒ, Mₘₑd = ' + datum.value + 'TeV'","symbolType":"stroke","symbolSize":400,"symbolStrokeWidth":1.6,"labelFontSize":11,"labelOffset":5,"columnPadding":24,"rowPadding":2,"padding":5,"fillColor":"rgba(255,255,255,0.85)","strokeColor":"#cccccc","cornerRadius":3,"encode":{"symbols":{"update":{"stroke":{"signal":"datum.value == 'NFW' ? '#3a8dd1' : datum.value == 'Ein' ? '#ef5a1f' : 'black'"}}}}}}}},
{"data":{"values":[{}]},"mark":{"type":"text","align":"left","baseline":"middle","fontSize":13,"text":"⟨σv⟩ₜₕₑₒ scale: 1.0 × 10⁶"},"encoding":{"x":{"datum":126,"type":"quantitative","scale":{"type":"log","domain":[100,100000],"nice":false},"axis":null},"y":{"datum":3.3e-26,"type":"quantitative","scale":{"type":"log","domain":[1e-26,8.5e-22],"nice":false},"axis":null}}},
{"data":{"values":[{}]},"mark":{"type":"text","align":"right","baseline":"top","fontSize":14,"lineHeight":14,"text":["Scalar","Dirac DM","gq = 1, gχ = 1"]},"encoding":{"x":{"datum":72000,"type":"quantitative","scale":{"type":"log","domain":[100,100000],"nice":false},"axis":null},"y":{"datum":2.8e-25,"type":"quantitative","scale":{"type":"log","domain":[1e-26,8.5e-22],"nice":false},"axis":null}}}
]},
{"width":263,"height":170,"resolve":{"axis":{"x":"independent","y":"independent"}},"layer":[
{"data":{"name":"band"},"mark":{"type":"rect","color":"#c8c8c8"},"encoding":{"x":{"field":"x0","type":"quantitative","scale":{"type":"log","domain":[100,100000],"nice":false},"axis":{"orient":"bottom","values":[100,200,300,400,500,600,700,800,900,1000,2000,3000,4000,5000,6000,7000,8000,9000,10000,20000,30000,40000,50000,60000,70000,80000,90000,100000],"labels":false,"title":null,"tickSize":{"condition":{"test":"abs(log(datum.value)/LN10 - round(log(datum.value)/LN10)) < 0.001","value":-9},"value":-5}}},"x2":{"field":"x1"}}},
{"data":{"name":"lines"},"transform":[{"filter":"datum.p == 'TR'"}],"mark":{"type":"line","interpolate":"monotone","clip":true,"strokeWidth":1.5},"encoding":{
"x":{"field":"x","type":"quantitative","scale":{"type":"log","domain":[100,100000],"nice":false},"axis":{"orient":"top","values":[100,200,300,400,500,600,700,800,900,1000,2000,3000,4000,5000,6000,7000,8000,9000,10000,20000,30000,40000,50000,60000,70000,80000,90000,100000],"labels":false,"title":null,"tickSize":{"condition":{"test":"abs(log(datum.value)/LN10 - round(log(datum.value)/LN10)) < 0.001","value":-9},"value":-5}}},
"y":{"field":"y","type":"quantitative","scale":{"type":"log","domain":[1e-26,8.5e-22],"nice":false},"axis":{"orient":"left","values":[1e-26,2e-26,3e-26,4e-26,5e-26,6e-26,7e-26,8e-26,9e-26,1e-25,2e-25,3e-25,4e-25,5e-25,6e-25,7e-25,8e-25,9e-25,1e-24,2e-24,3e-24,4e-24,5e-24,6e-24,7e-24,8e-24,9e-24,1e-23,2e-23,3e-23,4e-23,5e-23,6e-23,7e-23,8e-23,9e-23,1e-22,2e-22,3e-22,4e-22,5e-22,6e-22,7e-22,8e-22],"labels":false,"title":null,"tickSize":{"condition":{"test":"abs(log(datum.value)/LN10 - round(log(datum.value)/LN10)) < 0.001","value":-9},"value":-5}}},
"color":{"field":"s","type":"nominal","scale":{"domain":["NFW","Ein"],"range":["#3a8dd1","#ef5a1f"]},"legend":null},
"strokeDash":{"field":"m","type":"nominal","scale":{"domain":["NFW","Ein","0.1","0.3","1.0","3.2"],"range":[[1,0],[1,0],[1,0],[5,3],[6,2,1.5,2],[2.5,2]]},"legend":{"orient":"none","legendX":65,"legendY":5,"columns":3,"title":null,"labelExpr":"datum.value == 'NFW' ? 'NFW' : datum.value == 'Ein' ? 'Einasto (MW)' : '⟨σv⟩ₜₕₑₒ, Mₘₑd = ' + datum.value + 'TeV'","symbolType":"stroke","symbolSize":400,"symbolStrokeWidth":1.6,"labelFontSize":11,"labelOffset":5,"columnPadding":24,"rowPadding":2,"padding":5,"fillColor":"rgba(255,255,255,0.85)","strokeColor":"#cccccc","cornerRadius":3,"encode":{"symbols":{"update":{"stroke":{"signal":"datum.value == 'NFW' ? '#3a8dd1' : datum.value == 'Ein' ? '#ef5a1f' : 'black'"}}}}}}}},
{"data":{"name":"black"},"transform":[{"filter":"datum.p == 'TR'"}],"mark":{"type":"line","clip":true,"strokeWidth":1.3,"color":"black"},"encoding":{
"x":{"field":"x","type":"quantitative","scale":{"type":"log","domain":[100,100000],"nice":false},"axis":null},
"y":{"field":"y","type":"quantitative","scale":{"type":"log","domain":[1e-26,8.5e-22],"nice":false},"axis":{"orient":"right","values":[1e-26,2e-26,3e-26,4e-26,5e-26,6e-26,7e-26,8e-26,9e-26,1e-25,2e-25,3e-25,4e-25,5e-25,6e-25,7e-25,8e-25,9e-25,1e-24,2e-24,3e-24,4e-24,5e-24,6e-24,7e-24,8e-24,9e-24,1e-23,2e-23,3e-23,4e-23,5e-23,6e-23,7e-23,8e-23,9e-23,1e-22,2e-22,3e-22,4e-22,5e-22,6e-22,7e-22,8e-22],"labels":false,"title":null,"tickSize":{"condition":{"test":"abs(log(datum.value)/LN10 - round(log(datum.value)/LN10)) < 0.001","value":-9},"value":-5}}},
"strokeDash":{"field":"m","type":"nominal","scale":{"domain":["NFW","Ein","0.1","0.3","1.0","3.2"],"range":[[1,0],[1,0],[1,0],[5,3],[6,2,1.5,2],[2.5,2]]},"legend":{"orient":"none","legendX":65,"legendY":5,"columns":3,"title":null,"labelExpr":"datum.value == 'NFW' ? 'NFW' : datum.value == 'Ein' ? 'Einasto (MW)' : '⟨σv⟩ₜₕₑₒ, Mₘₑd = ' + datum.value + 'TeV'","symbolType":"stroke","symbolSize":400,"symbolStrokeWidth":1.6,"labelFontSize":11,"labelOffset":5,"columnPadding":24,"rowPadding":2,"padding":5,"fillColor":"rgba(255,255,255,0.85)","strokeColor":"#cccccc","cornerRadius":3,"encode":{"symbols":{"update":{"stroke":{"signal":"datum.value == 'NFW' ? '#3a8dd1' : datum.value == 'Ein' ? '#ef5a1f' : 'black'"}}}}}}}},
{"data":{"values":[{}]},"mark":{"type":"text","align":"left","baseline":"middle","fontSize":13,"text":"⟨σv⟩ₜₕₑₒ scale: 1.0"},"encoding":{"x":{"datum":156,"type":"quantitative","scale":{"type":"log","domain":[100,100000],"nice":false},"axis":null},"y":{"datum":3.3e-26,"type":"quantitative","scale":{"type":"log","domain":[1e-26,8.5e-22],"nice":false},"axis":null}}},
{"data":{"values":[{}]},"mark":{"type":"text","align":"right","baseline":"top","fontSize":14,"lineHeight":14,"text":["Pseudo-scalar","Dirac DM","gq = 1, gχ = 1"]},"encoding":{"x":{"datum":74000,"type":"quantitative","scale":{"type":"log","domain":[100,100000],"nice":false},"axis":null},"y":{"datum":2.8e-25,"type":"quantitative","scale":{"type":"log","domain":[1e-26,8.5e-22],"nice":false},"axis":null}}}
]},
{"width":263,"height":170,"resolve":{"axis":{"x":"independent","y":"independent"}},"layer":[
{"data":{"name":"band"},"mark":{"type":"rect","color":"#c8c8c8"},"encoding":{"x":{"field":"x0","type":"quantitative","scale":{"type":"log","domain":[100,100000],"nice":false},"axis":{"orient":"bottom","values":[100,200,300,400,500,600,700,800,900,1000,2000,3000,4000,5000,6000,7000,8000,9000,10000,20000,30000,40000,50000,60000,70000,80000,90000,100000],"labelExpr":"datum.value == 100 ? '10²' : datum.value == 1000 ? '10³' : datum.value == 10000 ? '10⁴' : datum.value == 100000 ? '10⁵' : ''","labelFontSize":{"condition":{"test":"abs(log(datum.value)/LN10 - round(log(datum.value)/LN10)) < 0.001","value":16.5},"value":0},"labelPadding":17,"tickSize":{"condition":{"test":"abs(log(datum.value)/LN10 - round(log(datum.value)/LN10)) < 0.001","value":-9},"value":-5},"title":"DM mass mᵪ (GeV)","titleX":263,"titleY":38,"titleAlign":"center","titleBaseline":"middle","titleFontSize":18}},"x2":{"field":"x1"}}},
{"data":{"name":"lines"},"transform":[{"filter":"datum.p == 'BL'"}],"mark":{"type":"line","interpolate":"monotone","clip":true,"strokeWidth":1.5},"encoding":{
"x":{"field":"x","type":"quantitative","scale":{"type":"log","domain":[100,100000],"nice":false},"axis":{"orient":"top","values":[100,200,300,400,500,600,700,800,900,1000,2000,3000,4000,5000,6000,7000,8000,9000,10000,20000,30000,40000,50000,60000,70000,80000,90000,100000],"labels":false,"title":null,"tickSize":{"condition":{"test":"abs(log(datum.value)/LN10 - round(log(datum.value)/LN10)) < 0.001","value":-9},"value":-5}}},
"y":{"field":"y","type":"quantitative","scale":{"type":"log","domain":[1e-26,8.5e-22],"nice":false},"axis":{"orient":"left","values":[1e-26,2e-26,3e-26,4e-26,5e-26,6e-26,7e-26,8e-26,9e-26,1e-25,2e-25,3e-25,4e-25,5e-25,6e-25,7e-25,8e-25,9e-25,1e-24,2e-24,3e-24,4e-24,5e-24,6e-24,7e-24,8e-24,9e-24,1e-23,2e-23,3e-23,4e-23,5e-23,6e-23,7e-23,8e-23,9e-23,1e-22,2e-22,3e-22,4e-22,5e-22,6e-22,7e-22,8e-22],"labelExpr":"datum.value == 1e-22 ? '10⁻²²' : datum.value == 1e-23 ? '10⁻²³' : datum.value == 1e-24 ? '10⁻²⁴' : datum.value == 1e-25 ? '10⁻²⁵' : datum.value == 1e-26 ? '10⁻²⁶' : ''","labelFontSize":{"condition":{"test":"abs(log(datum.value)/LN10 - round(log(datum.value)/LN10)) < 0.001","value":16.5},"value":0},"labelPadding":19,"tickSize":{"condition":{"test":"abs(log(datum.value)/LN10 - round(log(datum.value)/LN10)) < 0.001","value":-9},"value":-5},"title":null}},
"color":{"field":"s","type":"nominal","scale":{"domain":["NFW","Ein"],"range":["#3a8dd1","#ef5a1f"]},"legend":null},
"strokeDash":{"field":"m","type":"nominal","scale":{"domain":["NFW","Ein","0.1","0.3","1.0","3.2"],"range":[[1,0],[1,0],[1,0],[5,3],[6,2,1.5,2],[2.5,2]]},"legend":{"orient":"none","legendX":65,"legendY":5,"columns":3,"title":null,"labelExpr":"datum.value == 'NFW' ? 'NFW' : datum.value == 'Ein' ? 'Einasto (MW)' : '⟨σv⟩ₜₕₑₒ, Mₘₑd = ' + datum.value + 'TeV'","symbolType":"stroke","symbolSize":400,"symbolStrokeWidth":1.6,"labelFontSize":11,"labelOffset":5,"columnPadding":24,"rowPadding":2,"padding":5,"fillColor":"rgba(255,255,255,0.85)","strokeColor":"#cccccc","cornerRadius":3,"encode":{"symbols":{"update":{"stroke":{"signal":"datum.value == 'NFW' ? '#3a8dd1' : datum.value == 'Ein' ? '#ef5a1f' : 'black'"}}}}}}}},
{"data":{"name":"black"},"transform":[{"filter":"datum.p == 'BL'"}],"mark":{"type":"line","clip":true,"strokeWidth":1.3,"color":"black"},"encoding":{
"x":{"field":"x","type":"quantitative","scale":{"type":"log","domain":[100,100000],"nice":false},"axis":null},
"y":{"field":"y","type":"quantitative","scale":{"type":"log","domain":[1e-26,8.5e-22],"nice":false},"axis":{"orient":"right","values":[1e-26,2e-26,3e-26,4e-26,5e-26,6e-26,7e-26,8e-26,9e-26,1e-25,2e-25,3e-25,4e-25,5e-25,6e-25,7e-25,8e-25,9e-25,1e-24,2e-24,3e-24,4e-24,5e-24,6e-24,7e-24,8e-24,9e-24,1e-23,2e-23,3e-23,4e-23,5e-23,6e-23,7e-23,8e-23,9e-23,1e-22,2e-22,3e-22,4e-22,5e-22,6e-22,7e-22,8e-22],"labels":false,"title":null,"tickSize":{"condition":{"test":"abs(log(datum.value)/LN10 - round(log(datum.value)/LN10)) < 0.001","value":-9},"value":-5}}},
"strokeDash":{"field":"m","type":"nominal","scale":{"domain":["NFW","Ein","0.1","0.3","1.0","3.2"],"range":[[1,0],[1,0],[1,0],[5,3],[6,2,1.5,2],[2.5,2]]},"legend":{"orient":"none","legendX":65,"legendY":5,"columns":3,"title":null,"labelExpr":"datum.value == 'NFW' ? 'NFW' : datum.value == 'Ein' ? 'Einasto (MW)' : '⟨σv⟩ₜₕₑₒ, Mₘₑd = ' + datum.value + 'TeV'","symbolType":"stroke","symbolSize":400,"symbolStrokeWidth":1.6,"labelFontSize":11,"labelOffset":5,"columnPadding":24,"rowPadding":2,"padding":5,"fillColor":"rgba(255,255,255,0.85)","strokeColor":"#cccccc","cornerRadius":3,"encode":{"symbols":{"update":{"stroke":{"signal":"datum.value == 'NFW' ? '#3a8dd1' : datum.value == 'Ein' ? '#ef5a1f' : 'black'"}}}}}}}},
{"data":{"values":[{}]},"mark":{"type":"text","align":"left","baseline":"middle","fontSize":13,"text":"⟨σv⟩ₜₕₑₒ scale: 1.0"},"encoding":{"x":{"datum":145,"type":"quantitative","scale":{"type":"log","domain":[100,100000],"nice":false},"axis":null},"y":{"datum":3.3e-26,"type":"quantitative","scale":{"type":"log","domain":[1e-26,8.5e-22],"nice":false},"axis":null}}},
{"data":{"values":[{}]},"mark":{"type":"text","align":"right","baseline":"top","fontSize":14,"lineHeight":14,"text":["Vector","Dirac DM","gq = 1/4, gχ = 1"]},"encoding":{"x":{"datum":72000,"type":"quantitative","scale":{"type":"log","domain":[100,100000],"nice":false},"axis":null},"y":{"datum":2.8e-25,"type":"quantitative","scale":{"type":"log","domain":[1e-26,8.5e-22],"nice":false},"axis":null}}}
]},
{"width":263,"height":170,"resolve":{"axis":{"x":"independent","y":"independent"}},"layer":[
{"data":{"name":"band"},"mark":{"type":"rect","color":"#c8c8c8"},"encoding":{"x":{"field":"x0","type":"quantitative","scale":{"type":"log","domain":[100,100000],"nice":false},"axis":{"orient":"bottom","values":[100,200,300,400,500,600,700,800,900,1000,2000,3000,4000,5000,6000,7000,8000,9000,10000,20000,30000,40000,50000,60000,70000,80000,90000,100000],"labelExpr":"datum.value == 1000 ? '10³' : datum.value == 10000 ? '10⁴' : datum.value == 100000 ? '10⁵' : ''","labelFontSize":{"condition":{"test":"abs(log(datum.value)/LN10 - round(log(datum.value)/LN10)) < 0.001","value":16.5},"value":0},"labelPadding":17,"tickSize":{"condition":{"test":"abs(log(datum.value)/LN10 - round(log(datum.value)/LN10)) < 0.001","value":-9},"value":-5},"title":null}},"x2":{"field":"x1"}}},
{"data":{"name":"lines"},"transform":[{"filter":"datum.p == 'BR'"}],"mark":{"type":"line","interpolate":"monotone","clip":true,"strokeWidth":1.5},"encoding":{
"x":{"field":"x","type":"quantitative","scale":{"type":"log","domain":[100,100000],"nice":false},"axis":{"orient":"top","values":[100,200,300,400,500,600,700,800,900,1000,2000,3000,4000,5000,6000,7000,8000,9000,10000,20000,30000,40000,50000,60000,70000,80000,90000,100000],"labels":false,"title":null,"tickSize":{"condition":{"test":"abs(log(datum.value)/LN10 - round(log(datum.value)/LN10)) < 0.001","value":-9},"value":-5}}},
"y":{"field":"y","type":"quantitative","scale":{"type":"log","domain":[1e-26,8.5e-22],"nice":false},"axis":{"orient":"left","values":[1e-26,2e-26,3e-26,4e-26,5e-26,6e-26,7e-26,8e-26,9e-26,1e-25,2e-25,3e-25,4e-25,5e-25,6e-25,7e-25,8e-25,9e-25,1e-24,2e-24,3e-24,4e-24,5e-24,6e-24,7e-24,8e-24,9e-24,1e-23,2e-23,3e-23,4e-23,5e-23,6e-23,7e-23,8e-23,9e-23,1e-22,2e-22,3e-22,4e-22,5e-22,6e-22,7e-22,8e-22],"labels":false,"title":null,"tickSize":{"condition":{"test":"abs(log(datum.value)/LN10 - round(log(datum.value)/LN10)) < 0.001","value":-9},"value":-5}}},
"color":{"field":"s","type":"nominal","scale":{"domain":["NFW","Ein"],"range":["#3a8dd1","#ef5a1f"]},"legend":null},
"strokeDash":{"field":"m","type":"nominal","scale":{"domain":["NFW","Ein","0.1","0.3","1.0","3.2"],"range":[[1,0],[1,0],[1,0],[5,3],[6,2,1.5,2],[2.5,2]]},"legend":{"orient":"none","legendX":65,"legendY":5,"columns":3,"title":null,"labelExpr":"datum.value == 'NFW' ? 'NFW' : datum.value == 'Ein' ? 'Einasto (MW)' : '⟨σv⟩ₜₕₑₒ, Mₘₑd = ' + datum.value + 'TeV'","symbolType":"stroke","symbolSize":400,"symbolStrokeWidth":1.6,"labelFontSize":11,"labelOffset":5,"columnPadding":24,"rowPadding":2,"padding":5,"fillColor":"rgba(255,255,255,0.85)","strokeColor":"#cccccc","cornerRadius":3,"encode":{"symbols":{"update":{"stroke":{"signal":"datum.value == 'NFW' ? '#3a8dd1' : datum.value == 'Ein' ? '#ef5a1f' : 'black'"}}}}}}}},
{"data":{"name":"black"},"transform":[{"filter":"datum.p == 'BR'"}],"mark":{"type":"line","clip":true,"strokeWidth":1.3,"color":"black"},"encoding":{
"x":{"field":"x","type":"quantitative","scale":{"type":"log","domain":[100,100000],"nice":false},"axis":null},
"y":{"field":"y","type":"quantitative","scale":{"type":"log","domain":[1e-26,8.5e-22],"nice":false},"axis":{"orient":"right","values":[1e-26,2e-26,3e-26,4e-26,5e-26,6e-26,7e-26,8e-26,9e-26,1e-25,2e-25,3e-25,4e-25,5e-25,6e-25,7e-25,8e-25,9e-25,1e-24,2e-24,3e-24,4e-24,5e-24,6e-24,7e-24,8e-24,9e-24,1e-23,2e-23,3e-23,4e-23,5e-23,6e-23,7e-23,8e-23,9e-23,1e-22,2e-22,3e-22,4e-22,5e-22,6e-22,7e-22,8e-22],"labels":false,"title":null,"tickSize":{"condition":{"test":"abs(log(datum.value)/LN10 - round(log(datum.value)/LN10)) < 0.001","value":-9},"value":-5}}},
"strokeDash":{"field":"m","type":"nominal","scale":{"domain":["NFW","Ein","0.1","0.3","1.0","3.2"],"range":[[1,0],[1,0],[1,0],[5,3],[6,2,1.5,2],[2.5,2]]},"legend":{"orient":"none","legendX":65,"legendY":5,"columns":3,"title":null,"labelExpr":"datum.value == 'NFW' ? 'NFW' : datum.value == 'Ein' ? 'Einasto (MW)' : '⟨σv⟩ₜₕₑₒ, Mₘₑd = ' + datum.value + 'TeV'","symbolType":"stroke","symbolSize":400,"symbolStrokeWidth":1.6,"labelFontSize":11,"labelOffset":5,"columnPadding":24,"rowPadding":2,"padding":5,"fillColor":"rgba(255,255,255,0.85)","strokeColor":"#cccccc","cornerRadius":3,"encode":{"symbols":{"update":{"stroke":{"signal":"datum.value == 'NFW' ? '#3a8dd1' : datum.value == 'Ein' ? '#ef5a1f' : 'black'"}}}}}}}},
{"data":{"values":[{}]},"mark":{"type":"text","align":"left","baseline":"middle","fontSize":13,"text":"⟨σv⟩ₜₕₑₒ scale: 10.0"},"encoding":{"x":{"datum":204,"type":"quantitative","scale":{"type":"log","domain":[100,100000],"nice":false},"axis":null},"y":{"datum":3.3e-26,"type":"quantitative","scale":{"type":"log","domain":[1e-26,8.5e-22],"nice":false},"axis":null}}},
{"data":{"values":[{}]},"mark":{"type":"text","align":"right","baseline":"top","fontSize":14,"lineHeight":14,"text":["Axial-vector","Dirac DM","gq = 1/4, gχ = 1"]},"encoding":{"x":{"datum":74000,"type":"quantitative","scale":{"type":"log","domain":[100,100000],"nice":false},"axis":null},"y":{"datum":2.8e-25,"type":"quantitative","scale":{"type":"log","domain":[1e-26,8.5e-22],"nice":false},"axis":null}}}
]}
]
}
